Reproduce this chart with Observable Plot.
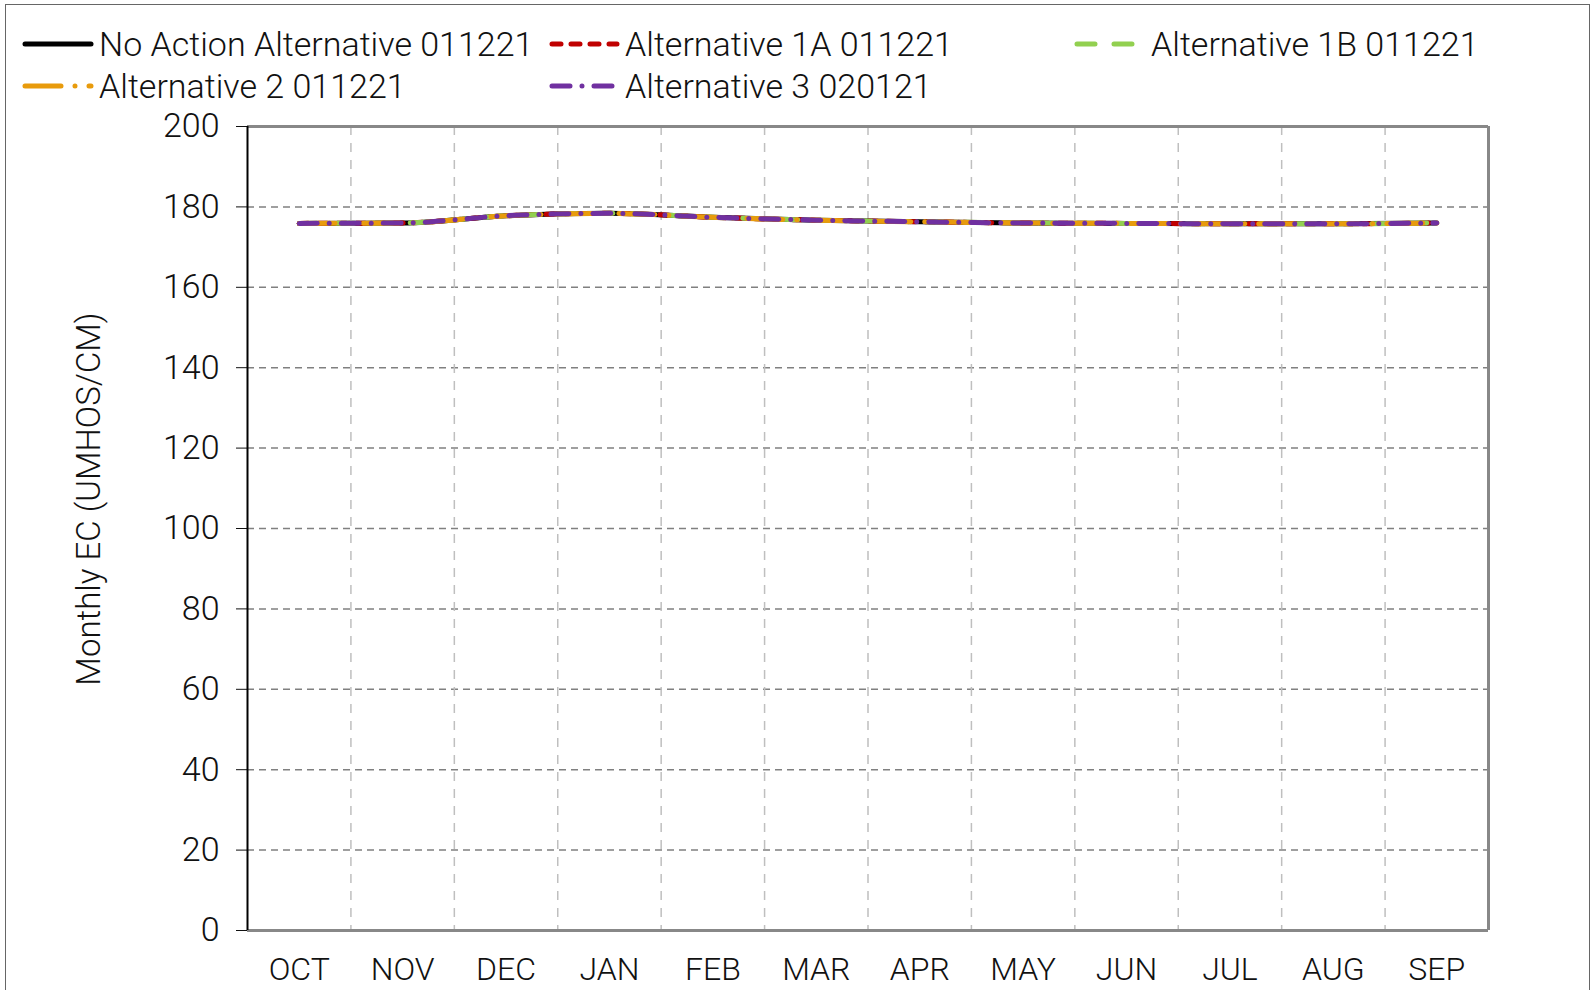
<!DOCTYPE html>
<html>
<head>
<meta charset="utf-8">
<script src="https://cdn.jsdelivr.net/npm/d3@7"></script>
<script src="https://cdn.jsdelivr.net/npm/@observablehq/plot@0.6"></script>
<style>
  html, body { margin: 0; padding: 0; background: #fff; }
  #wrap { position: relative; width: 1593px; height: 990px; overflow: hidden; font-family: Roboto, "Liberation Sans", sans-serif; font-weight: 300; color: #111; }
  #border { position: absolute; left: 5px; top: 4px; width: 1585px; height: 1000px; border: 1.5px solid #666; box-sizing: border-box; }
  .item { position: absolute; display: flex; align-items: center; height: 40px; font-size: 34px; white-space: nowrap; }
  .item svg { display: block; }
  #ytitle { position: absolute; left: 88px; top: 499px; transform: translate(-50%, -50%) rotate(-90deg); font-size: 33px; white-space: nowrap; }
  #chart { position: absolute; left: 0; top: 100px; }
</style>
</head>
<body>
<div id="wrap">
  <div id="border"></div>
  <div id="legend"></div>
  <div id="ytitle">Monthly EC (UMHOS/CM)</div>
  <div id="chart"></div>
</div>
<script>
const months = ["OCT","NOV","DEC","JAN","FEB","MAR","APR","MAY","JUN","JUL","AUG","SEP"];
const seriesNames = ["No Action Alternative 011221","Alternative 1A 011221","Alternative 1B 011221","Alternative 2 011221","Alternative 3 020121"];
const noAction = [175.9,176.0,177.8,178.4,177.4,176.7,176.3,176.0,175.9,175.8,175.8,176.0];
const alt1A    = [175.9,176.0,177.8,178.4,177.4,176.7,176.3,176.0,175.9,175.8,175.8,176.0];
const alt1B    = [175.9,176.0,177.8,178.4,177.4,176.7,176.3,176.0,175.9,175.8,175.8,176.0];
const alt2     = [175.9,176.0,177.8,178.4,177.4,176.7,176.3,176.0,175.9,175.8,175.8,176.0];
const alt3     = [175.9,176.0,177.8,178.4,177.4,176.7,176.3,176.0,175.9,175.8,175.8,176.0];
const yTicks = [0,20,40,60,80,100,120,140,160,180,200];

const seriesValues = [noAction, alt1A, alt1B, alt2, alt3];
const colors = ["#000000","#C00000","#92D050","#E89B0C","#7030A0"];
const dashes = ["none","9,10","18,19","36,14,0,14","18,12,0,12"];

const data = seriesNames.flatMap((name, s) =>
  seriesValues[s].map((v, i) => ({series: name, idx: i + 0.5, value: v}))
);

// Legend
const legendPos = [
  {sx: 22, tx: 99, y: 44},
  {sx: 549, tx: 625, y: 44},
  {sx: 1074, tx: 1151, y: 44},
  {sx: 22, tx: 99, y: 86},
  {sx: 549, tx: 625, y: 86}
];
const legend = document.getElementById("legend");
seriesNames.forEach((name, s) => {
  const p = legendPos[s];
  const w = p.tx - p.sx - 5;
  const div = document.createElement("div");
  div.className = "item";
  div.style.left = p.sx + "px";
  div.style.top = (p.y - 20) + "px";
  div.innerHTML = `<svg width="${w}" height="10" style="margin-right:5px"><line x1="3" y1="5" x2="${w-3}" y2="5" stroke="${colors[s]}" stroke-width="5" stroke-linecap="round" stroke-dasharray="${dashes[s]}"/></svg><span>${name}</span>`;
  legend.appendChild(div);
});

const lineMarks = seriesNames.map((name, s) =>
  Plot.line(data.filter(d => d.series === name), {
    x: "idx", y: "value", stroke: colors[s], strokeWidth: 5,
    strokeDasharray: dashes[s] === "none" ? undefined : dashes[s],
    strokeLinecap: "round", strokeLinejoin: "round", curve: "monotone-x"
  })
);

const chart = Plot.plot({
  width: 1593,
  height: 890,
  marginTop: 26,
  marginBottom: 60,
  marginLeft: 247,
  marginRight: 105,
  style: {fontFamily: "Roboto, 'Liberation Sans', sans-serif", fontWeight: 300, fontSize: "34px", color: "#111", background: "transparent", overflow: "visible"},
  x: {domain: [0, 12], axis: null},
  y: {domain: [0, 200], ticks: yTicks, tickSize: 11, tickPadding: 17, label: null},
  marks: [
    Plot.ruleY(yTicks.filter(t => t > 0 && t < 200), {stroke: "#808080", strokeWidth: 1.5, strokeDasharray: "7,5"}),
    Plot.ruleX(d3.range(1, 12), {stroke: "#bfbfbf", strokeWidth: 1.5, strokeDasharray: "9,8"}),
    Plot.ruleY([200], {stroke: "#888", strokeWidth: 3}),
    Plot.ruleX([12], {stroke: "#888", strokeWidth: 3}),
    ...lineMarks,
    Plot.ruleY([0], {stroke: "#888", strokeWidth: 3}),
    Plot.ruleX([0], {stroke: "#000", strokeWidth: 2}),
    Plot.text(months, {x: (d, i) => i + 0.5, y: 0, text: d => d, dy: 39, fontSize: 32, fill: "#111"})
  ]
});
document.getElementById("chart").appendChild(chart);
</script>
</body>
</html>
